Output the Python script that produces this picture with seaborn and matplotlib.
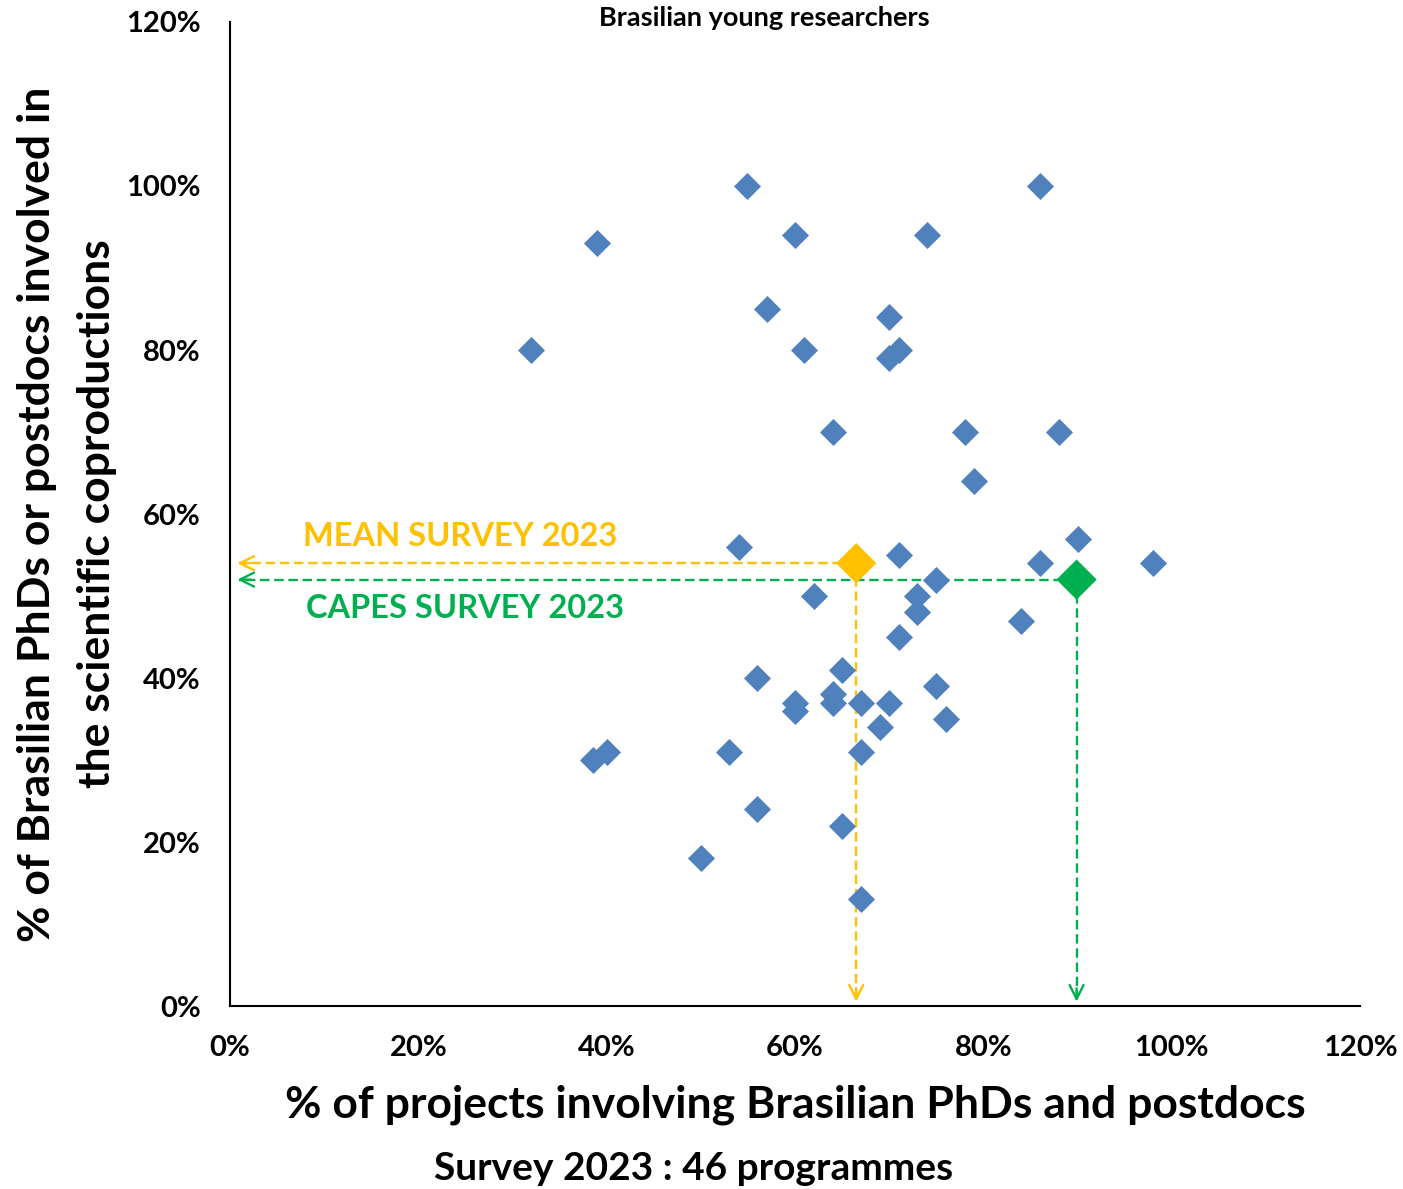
import matplotlib
matplotlib.use('Agg')
import matplotlib.pyplot as plt
import seaborn as sns
import pandas as pd
from matplotlib.ticker import FuncFormatter

# ---- data (percent values) ----
proj_pct = [54.9, 86, 39, 60, 74, 57, 70, 32, 61, 71, 70, 64, 78, 88, 79,
            54, 71, 90, 86, 98, 75, 73, 62, 73, 84, 71, 65, 56, 75, 64,
            60, 64, 67, 70, 60, 76, 69, 53, 67, 40, 38.5, 56, 65, 50, 67]
phd_pct = [100, 100, 93, 94, 94, 85, 84, 80, 80, 80, 79, 70, 70, 70, 64,
           56, 55, 57, 54, 54, 52, 50, 50, 48, 47, 45, 41, 40, 39, 38,
           37, 37, 37, 37, 36, 35, 34, 31, 31, 31, 30, 24, 22, 18, 13]
ref_names = ['MEAN SURVEY 2023', 'CAPES SURVEY 2023']
ref_x = [66.5, 89.9]
ref_y = [54.0, 52.0]
ref_colors = ['#FFC000', '#00B050']
label_pos_x = [24.4, 25.0]
label_pos_y = [57.2, 48.5]

df = pd.DataFrame({'projects': proj_pct, 'phds': phd_pct})
refs = pd.DataFrame({'name': ref_names, 'x': ref_x, 'y': ref_y})

sns.set_theme(style='white')
plt.rcParams['font.family'] = ['Lato', 'DejaVu Sans']
plt.rcParams['font.weight'] = 'bold'
plt.rcParams['text.color'] = 'black'
plt.rcParams['xtick.color'] = 'black'
plt.rcParams['ytick.color'] = 'black'

fig = plt.figure(figsize=(14.03, 11.89), dpi=100)
ax = fig.add_axes([0.1639, 0.1539, 0.8055, 0.8276])

# dashed guide lines with open arrow heads
for rx, ry, col in zip(ref_x, ref_y, ref_colors):
    ax.plot([rx, 1.0], [ry, ry], color=col, lw=1.7, ls=(0, (4, 2)), zorder=1)
    ax.plot([rx, rx], [ry, 1.0], color=col, lw=1.7, ls=(0, (4, 2)), zorder=1)
    ax.annotate('', xy=(0.5, ry), xytext=(2.5, ry),
                arrowprops=dict(arrowstyle='->', color=col, lw=1.7,
                                mutation_scale=25), zorder=1)
    ax.annotate('', xy=(rx, 0.2), xytext=(rx, 2.5),
                arrowprops=dict(arrowstyle='->', color=col, lw=1.7,
                                mutation_scale=25), zorder=1)

sns.scatterplot(data=df, x='projects', y='phds', marker='D', s=190,
                color='#4F81BD', linewidth=0, ax=ax, zorder=3)
sns.scatterplot(data=refs, x='x', y='y', hue='name', palette=ref_colors,
                marker='D', s=420, linewidth=0, ax=ax, zorder=4, legend=False)

for name, lx, ly, col in zip(ref_names, label_pos_x, label_pos_y, ref_colors):
    ax.text(lx, ly, name, color=col, fontsize=23.4, fontweight='bold',
            ha='center', va='center')

ax.set_xlim(0, 120)
ax.set_ylim(0, 120)
ax.set_xticks(range(0, 121, 20))
ax.set_yticks(range(0, 121, 20))
pct = FuncFormatter(lambda v, p: f'{int(v)}%')
ax.xaxis.set_major_formatter(pct)
ax.yaxis.set_major_formatter(pct)
ax.tick_params(axis='both', length=0, labelsize=21, labelcolor='black')
ax.tick_params(axis='x', pad=21)
ax.tick_params(axis='y', pad=21)
for lab in ax.get_xticklabels() + ax.get_yticklabels():
    lab.set_fontweight('bold')
sns.despine(ax=ax)
for side in ['left', 'bottom']:
    ax.spines[side].set_color('black')
    ax.spines[side].set_linewidth(1.5)
ax.set_xlabel('')
ax.set_ylabel('')

fig.text(764 / 1403, 1 - 18 / 1189, 'Brasilian young researchers',
         fontsize=19.5, fontweight='bold', ha='center', va='center')
fig.text(795 / 1403, 1 - 1105 / 1189, '% of projects involving Brasilian PhDs and postdocs',
         fontsize=32, fontweight='bold', ha='center', va='center')
fig.text(694 / 1403, 1 - 1168 / 1189, 'Survey 2023 : 46 programmes',
         fontsize=28, fontweight='bold', ha='center', va='center')
fig.text(37 / 1403, 1 - 514 / 1189, '% of Brasilian PhDs or postdocs involved in',
         fontsize=32, fontweight='bold', ha='center', va='center', rotation=90)
fig.text(97 / 1403, 1 - 514 / 1189, 'the scientific coproductions',
         fontsize=32, fontweight='bold', ha='center', va='center', rotation=90)

fig.savefig('out.png', dpi=100)
